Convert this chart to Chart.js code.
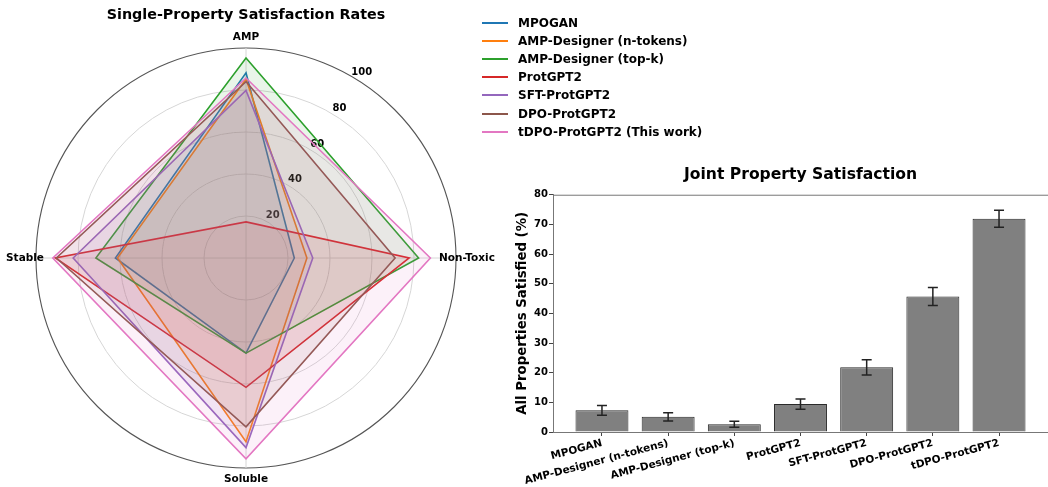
<!DOCTYPE html>
<html>
<head>
<meta charset="utf-8">
<script src="https://cdn.jsdelivr.net/npm/chart.js@4.4.1/dist/chart.umd.min.js"></script>
<style>
  html, body { margin: 0; padding: 0; background: #fff; overflow: hidden; width: 1048px; height: 487px; }
  #radar { position: absolute; left: 0; top: 0; }
  #bars { position: absolute; left: 500px; top: 150px; }
  #legend { position: absolute; left: 482px; top: 0; font: bold 12px "DejaVu Sans", sans-serif; color: #000; }
  .item { position: absolute; left: 0; height: 18px; line-height: 18px; white-space: nowrap; }
  .swatch { position: absolute; left: 0; top: 8px; width: 26px; height: 2px; }
  .label { position: absolute; left: 36px; top: 0; }
</style>
</head>
<body>
<canvas id="radar" width="520" height="487"></canvas>
<div id="legend"></div>
<canvas id="bars" width="548" height="337"></canvas>
<script>
// radar axes, clockwise from the top
const properties = ['AMP', 'Non-Toxic', 'Soluble', 'Stable'];
const radarTicks = [20, 40, 60, 80, 100];

const models = ['MPOGAN', 'AMP-Designer (n-tokens)', 'AMP-Designer (top-k)', 'ProtGPT2',
                'SFT-ProtGPT2', 'DPO-ProtGPT2', 'tDPO-ProtGPT2'];
const legendNames = ['MPOGAN', 'AMP-Designer (n-tokens)', 'AMP-Designer (top-k)', 'ProtGPT2',
                     'SFT-ProtGPT2', 'DPO-ProtGPT2', 'tDPO-ProtGPT2 (This work)'];
const colors = ['#1f77b4', '#ff7f0e', '#2ca02c', '#d62728', '#9467bd', '#8c564b', '#e377c2'];

// single-property satisfaction (%), order: AMP, Non-Toxic, Soluble, Stable
const mpogan      = [88.2, 23.0, 45.3, 62.2];
const ampNTokens  = [85.2, 29.0, 87.5, 61.2];
const ampTopK     = [95.2, 82.2, 45.3, 71.5];
const protgpt2    = [17.2, 77.7, 61.6, 90.8];
const sftProtgpt2 = [79.8, 31.8, 90.3, 82.3];
const dpoProtgpt2 = [84.0, 71.0, 80.4, 90.3];
const tdpoProtgpt2 = [85.7, 87.8, 95.6, 92.0];
const radarSeries = [mpogan, ampNTokens, ampTopK, protgpt2, sftProtgpt2, dpoProtgpt2, tdpoProtgpt2];

// joint property satisfaction (%) with error bars
const jointRate = [7.3, 5.1, 2.6, 9.4, 21.8, 45.7, 71.9];
const jointErr  = [1.65, 1.35, 1.0, 1.75, 2.55, 3.05, 2.85];

Chart.defaults.font.family = '"DejaVu Sans", sans-serif';
Chart.defaults.color = '#000';

function hexToRgba(hex, a) {
    const n = parseInt(hex.slice(1), 16);
    return `rgba(${(n >> 16) & 255}, ${(n >> 8) & 255}, ${n & 255}, ${a})`;
}

// legend
document.getElementById('legend').innerHTML = legendNames.map((name, i) => `
    <div class="item" style="top:${(13.7 + 18.17 * i).toFixed(1)}px">
        <div class="swatch" style="background:${colors[i]}"></div>
        <span class="label">${name}</span>
    </div>`).join('');

// radar tick labels (under the polygons) and axis labels
const radarText = {
    id: 'radarText',
    beforeDatasetsDraw(chart) {
        const s = chart.scales.r;
        const ctx = chart.ctx;
        const ang = 32 * Math.PI / 180;
        ctx.save();
        ctx.fillStyle = '#000';
        ctx.textAlign = 'center';
        ctx.textBaseline = 'middle';
        ctx.font = 'bold 10px "DejaVu Sans"';
        radarTicks.forEach(v => {
            const d = s.getDistanceFromCenterForValue(v) + 8.5;
            ctx.fillText(String(v), s.xCenter + d * Math.sin(ang), s.yCenter - d * Math.cos(ang));
        });
        ctx.restore();
    },
    afterDraw(chart) {
        const s = chart.scales.r;
        const ctx = chart.ctx;
        ctx.save();
        ctx.fillStyle = '#000';
        ctx.textAlign = 'center';
        ctx.textBaseline = 'middle';
        ctx.font = 'bold 10.5px "DejaVu Sans"';
        properties.forEach((p, i) => {
            const pos = s.getPointPosition(i, s.drawingArea + 11);
            ctx.fillText(p, pos.x, pos.y);
        });
        ctx.restore();
    }
};

new Chart(document.getElementById('radar'), {
    type: 'radar',
    data: {
        labels: properties,
        datasets: radarSeries.map((vals, i) => ({
            label: legendNames[i],
            data: vals,
            borderColor: colors[i],
            backgroundColor: hexToRgba(colors[i], 0.1),
            borderWidth: 1.6,
            fill: true,
            pointRadius: 0,
            order: radarSeries.length - 1 - i
        }))
    },
    options: {
        responsive: false,
        animation: false,
        devicePixelRatio: 1,
        layout: { padding: { left: 36, right: 64, top: 0, bottom: 18 } },
        plugins: {
            legend: { display: false },
            tooltip: { enabled: false },
            title: {
                display: true,
                text: 'Single-Property Satisfaction Rates',
                font: { size: 14.3, weight: 'bold' },
                color: '#000',
                padding: { top: 6.4, bottom: 25.4 }
            }
        },
        scales: {
            r: {
                min: 0,
                max: 100,
                ticks: { stepSize: 20, display: false },
                pointLabels: { display: false },
                grid: {
                    circular: true,
                    color: ctx => ctx.tick && ctx.tick.value === 100 ? '#555' : '#d6d6d6',
                    lineWidth: ctx => ctx.tick && ctx.tick.value === 100 ? 1.1 : 1
                },
                angleLines: { color: '#d6d6d6', lineWidth: 1 }
            }
        }
    },
    plugins: [radarText]
});

// error bars and the top spine of the bar chart
const errorBars = {
    id: 'errorBars',
    afterDatasetsDraw(chart) {
        const x = chart.scales.x, y = chart.scales.y;
        const ctx = chart.ctx;
        ctx.save();
        ctx.strokeStyle = '#222';
        ctx.lineWidth = 1.5;
        jointRate.forEach((v, i) => {
            const px = x.getPixelForValue(i);
            const hi = y.getPixelForValue(v + jointErr[i]);
            const lo = y.getPixelForValue(v - jointErr[i]);
            ctx.beginPath();
            ctx.moveTo(px, hi); ctx.lineTo(px, lo);
            ctx.moveTo(px - 5, hi); ctx.lineTo(px + 5, hi);
            ctx.moveTo(px - 5, lo); ctx.lineTo(px + 5, lo);
            ctx.stroke();
        });
        ctx.restore();
    },
    afterDraw(chart) {
        const a = chart.chartArea;
        const ctx = chart.ctx;
        ctx.save();
        ctx.strokeStyle = '#777';
        ctx.lineWidth = 1;
        ctx.beginPath();
        ctx.moveTo(a.left, a.top + 0.5);
        ctx.lineTo(a.right, a.top + 0.5);
        ctx.stroke();
        ctx.restore();
    }
};

new Chart(document.getElementById('bars'), {
    type: 'bar',
    data: {
        datasets: [{
            data: jointRate.map((v, i) => ({ x: i, y: v })),
            backgroundColor: '#808080',
            borderColor: '#2a2a2a',
            borderWidth: 1,
            barPercentage: 0.8,
            categoryPercentage: 1
        }]
    },
    options: {
        responsive: false,
        animation: false,
        devicePixelRatio: 1,
        layout: { padding: { left: 6, right: 0, top: 0, bottom: 0 } },
        plugins: {
            legend: { display: false },
            tooltip: { enabled: false },
            title: {
                display: true,
                text: 'Joint Property Satisfaction',
                font: { size: 15.6, weight: 'bold' },
                color: '#000',
                fullSize: false,
                padding: { top: 16, bottom: 10 }
            }
        },
        scales: {
            x: {
                type: 'linear',
                min: -0.74,
                max: 6.74,
                offset: false,
                afterBuildTicks: s => { s.ticks = models.map((_, i) => ({ value: i })); },
                afterFit: s => { s.height = 55; },
                grid: { drawOnChartArea: false, offset: false, tickLength: 4, color: '#444' },
                border: { color: '#777' },
                ticks: {
                    autoSkip: false,
                    minRotation: 15,
                    maxRotation: 15,
                    padding: 1,
                    color: '#000',
                    font: { size: 10.5, weight: 'bold' },
                    callback: v => models[v]
                }
            },
            y: {
                min: 0,
                max: 80,
                afterFit: s => { s.width = 47; },
                grid: { drawOnChartArea: false, tickLength: 4, color: '#444' },
                border: { color: '#777' },
                ticks: { stepSize: 10, padding: 1, color: '#000', font: { size: 10, weight: 'bold' } },
                title: {
                    display: true,
                    text: 'All Properties Satisfied (%)',
                    color: '#000',
                    font: { size: 13.3, weight: 'bold' },
                    padding: { top: 9, bottom: 0 }
                }
            }
        }
    },
    plugins: [errorBars]
});
</script>
</body>
</html>
